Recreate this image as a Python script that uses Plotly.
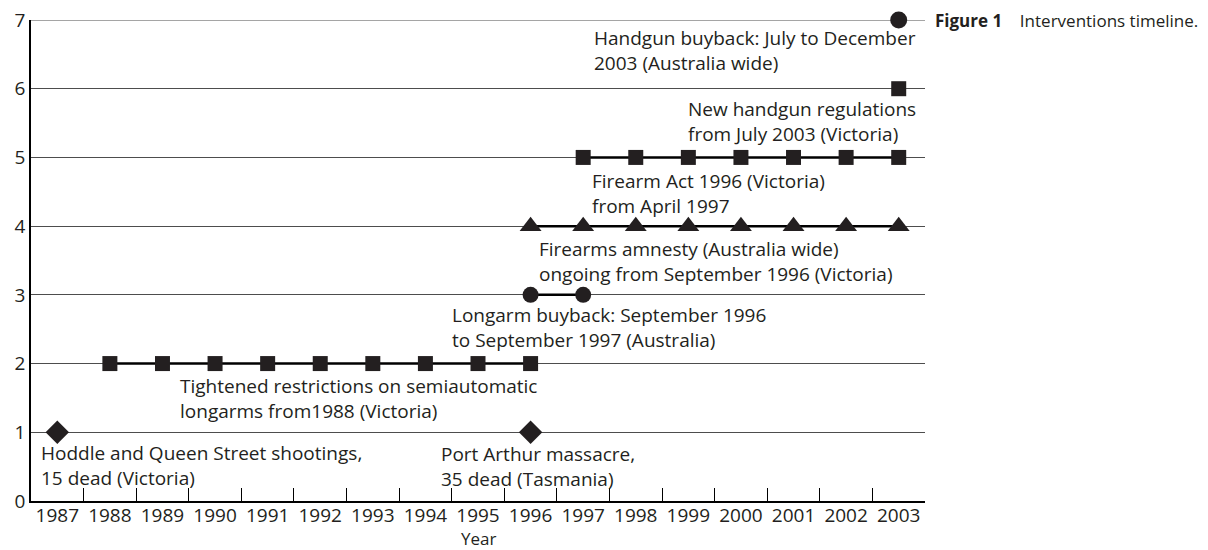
import plotly.graph_objects as go

years = [str(y) for y in range(1987, 2004)]

hoddle_years = ["1987"]
port_arthur_years = ["1996"]
restrictions_years = [str(y) for y in range(1988, 1997)]
longarm_years = ["1996", "1997"]
amnesty_years = [str(y) for y in range(1996, 2004)]
firearm_act_years = [str(y) for y in range(1997, 2004)]
handgun_reg_years = ["2003"]
handgun_buyback_years = ["2003"]

hoddle_level = 1
port_arthur_level = 1
restrictions_level = 2
longarm_level = 3
amnesty_level = 4
firearm_act_level = 5
handgun_reg_level = 6
handgun_buyback_level = 7

y_ticks = [0, 1, 2, 3, 4, 5, 6, 7]

label_texts = [
    "Hoddle and Queen Street shootings,<br>15 dead (Victoria)",
    "Port Arthur massacre,<br>35 dead (Tasmania)",
    "Tightened restrictions on semiautomatic<br>longarms from1988 (Victoria)",
    "Longarm buyback: September 1996<br>to September 1997 (Australia)",
    "Firearms amnesty (Australia wide)<br>ongoing from September 1996 (Victoria)",
    "Firearm Act 1996 (Victoria)<br>from April 1997",
    "New handgun regulations<br>from July 2003 (Victoria)",
    "Handgun buyback: July to December<br>2003 (Australia wide)",
]
label_levels = [hoddle_level, port_arthur_level, restrictions_level, longarm_level,
                amnesty_level, firearm_act_level, handgun_reg_level, handgun_buyback_level]
# layout: left edge of each label (fraction of plot width) and gap below its line (px)
label_x = [0.0093, 0.4567, 0.1648, 0.4687, 0.5657, 0.6253, 0.7327, 0.6272]
label_gap = [14, 15, 15, 13, 16, 17, 13, 11]

FONT = "Open Sans"
INK = "#231f20"
PLOT_H = 481  # px between y=0 and y=7
UNIT = PLOT_H / 7.0

fig = go.Figure()

def add(xs, level, symbol, size, mode="lines+markers"):
    fig.add_trace(go.Scatter(
        x=xs, y=[level] * len(xs), mode=mode,
        line=dict(color="black", width=2.5),
        marker=dict(symbol=symbol, size=size, color=INK, line=dict(width=0)),
        cliponaxis=False, showlegend=False, hoverinfo="skip",
    ))

add(hoddle_years + port_arthur_years, hoddle_level, "diamond", 18, mode="markers")
add(restrictions_years, restrictions_level, "square", 15)
add(longarm_years, longarm_level, "circle", 16)
add(amnesty_years, amnesty_level, "triangle-up", 19)
add(firearm_act_years, firearm_act_level, "square", 15)
add(handgun_reg_years, handgun_reg_level, "square", 15)
add(handgun_buyback_years, handgun_buyback_level, "circle", 17)

for text, px, level, gap in zip(label_texts, label_x, label_levels, label_gap):
    fig.add_annotation(
        text=text, xref="paper", x=px, yref="y", y=level - (gap + 19.5) / UNIT,
        xanchor="left", yanchor="middle", align="left", showarrow=False,
        font=dict(family=FONT, size=19, color=INK),
    )

fig.add_annotation(
    text="<b>Figure 1</b>    Interventions timeline.",
    xref="paper", x=1.0, xshift=8, yref="y", y=7,
    xanchor="left", yanchor="middle", showarrow=False,
    font=dict(family=FONT, size=17, color=INK),
)

# x axis title
fig.add_annotation(
    text="Year", xref="paper", x=0.5, yref="paper", y=0, yshift=-37,
    xanchor="center", yanchor="middle", showarrow=False,
    font=dict(family=FONT, size=17, color=INK),
)

# top grid line at y = 7
fig.add_shape(type="line", xref="paper", x0=0, x1=1, yref="y", y0=7, y1=7,
              line=dict(color="#4d4d4d", width=1), layer="below")

fig.update_layout(
    width=1208, height=550,
    margin=dict(l=23, r=291, t=12, b=57),
    paper_bgcolor="white", plot_bgcolor="white",
    font=dict(family=FONT, size=18, color=INK),
    xaxis=dict(
        type="category", categoryorder="array", categoryarray=years,
        range=[-0.5, 16.5], tickson="boundaries", ticks="inside",
        ticklen=13, tickcolor="black", tickwidth=1,
        showline=True, linecolor="black", linewidth=1.5,
        showgrid=False, zeroline=False, automargin=False,
        tickfont=dict(size=19), ticklabelstandoff=-4,
    ),
    yaxis=dict(
        range=[0, 7], tickvals=y_ticks, ticks="",
        showline=True, linecolor="black", linewidth=1.5,
        showgrid=True, gridcolor="#4d4d4d", gridwidth=1,
        zeroline=False, automargin=False, tickfont=dict(size=19),
        ticklabeloverflow="allow",
    ),
)

fig.write_html("out.html")
